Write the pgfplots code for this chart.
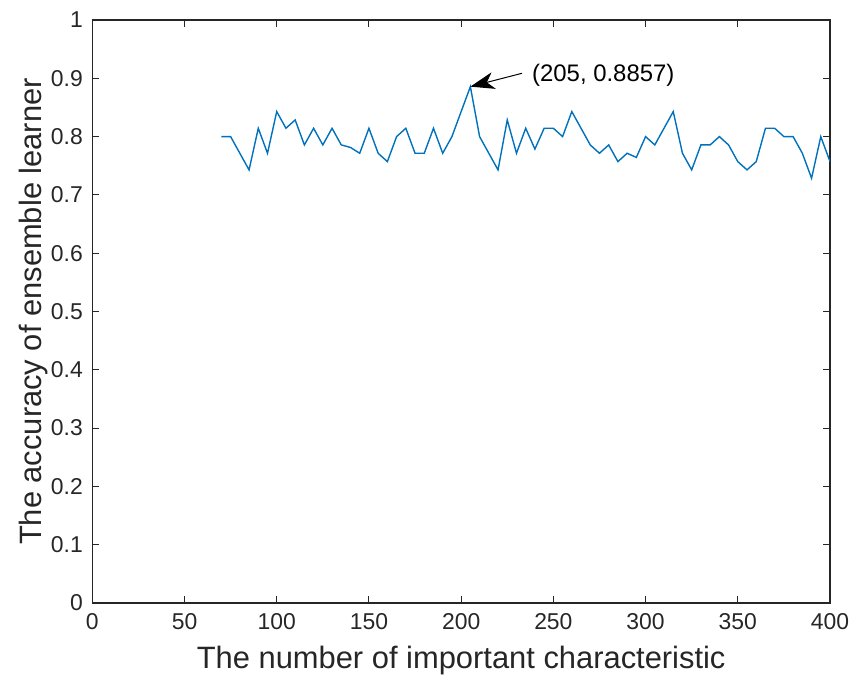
\documentclass[border=0pt]{standalone}
\usepackage{fontspec}
\setmainfont{Liberation Sans}
\usepackage{pgfplots}
\pgfplotsset{compat=1.18}
\usetikzlibrary{arrows.meta}
\definecolor{mlblue}{HTML}{0072BD}
\definecolor{mlaxis}{HTML}{262626}

\pgfplotstableread{
x acc
70 0.8
75 0.8
80 0.7714
85 0.7429
90 0.8143
95 0.7714
100 0.8429
105 0.8143
110 0.8286
115 0.7857
120 0.8143
125 0.7857
130 0.8143
135 0.7857
140 0.7814
145 0.7714
150 0.8143
155 0.7714
160 0.7571
165 0.8
170 0.8143
175 0.7714
180 0.7714
185 0.8143
190 0.7714
195 0.8
200 0.8429
205 0.8857
210 0.8
215 0.7714
220 0.7429
225 0.8286
230 0.7714
235 0.8143
240 0.7786
245 0.8143
250 0.8143
255 0.8
260 0.8429
265 0.8143
270 0.7857
275 0.7714
280 0.7857
285 0.7571
290 0.7714
295 0.7643
300 0.8
305 0.7857
310 0.8143
315 0.8429
320 0.7714
325 0.7429
330 0.7857
335 0.7857
340 0.8
345 0.7857
350 0.7571
355 0.7429
360 0.7571
365 0.8143
370 0.8143
375 0.8
380 0.8
385 0.7714
390 0.7286
395 0.8
400 0.7571
}\acctable

\begin{document}
\begin{tikzpicture}
\begin{axis}[
  scale only axis,
  width=737.7bp, height=583bp,
  xmin=0, xmax=400, ymin=0, ymax=1,
  xtick distance=50, ytick distance=0.1,
  tick align=inside, tick pos=both,
  major tick length=7bp,
  axis line style={mlaxis, line width=1.2bp},
  every tick/.style={mlaxis, line width=1bp},
  tick label style={font=\fontsize{23}{23}\selectfont, text=mlaxis},
  /pgf/number format/assume math mode=true,
  /pgf/number format/fixed,
  xticklabel style={yshift=-7bp},
  yticklabel style={xshift=-6bp},
  label style={font=\fontsize{31}{31}\selectfont, text=mlaxis},
  xlabel={The number of important characteristic},
  ylabel={The accuracy of ensemble learner},
  xlabel style={at={(axis description cs:0.5,-0.098)}, anchor=center},
  ylabel style={at={(axis description cs:-0.08,0.5)}, anchor=center},
]
\addplot[mlblue, line width=1.4bp, no marks] table[x=x, y=acc] {\acctable};
\draw[-{Stealth[length=24bp,width=17bp,inset=7bp]}, line width=1bp, black]
  (axis cs:233,0.9086) -- (axis cs:205,0.8857);
\node[anchor=west, inner sep=0pt, font=\fontsize{24}{24}\selectfont]
  at (axis cs:238.4,0.9057) {(205, 0.8857)};
\coordinate (sw) at (rel axis cs:0,0);
\coordinate (ne) at (rel axis cs:1,1);
\end{axis}
\pgfresetboundingbox
\path ([shift={(-92.3bp,-75bp)}]sw) rectangle ([shift={(32bp,20bp)}]ne);
\end{tikzpicture}
\end{document}
